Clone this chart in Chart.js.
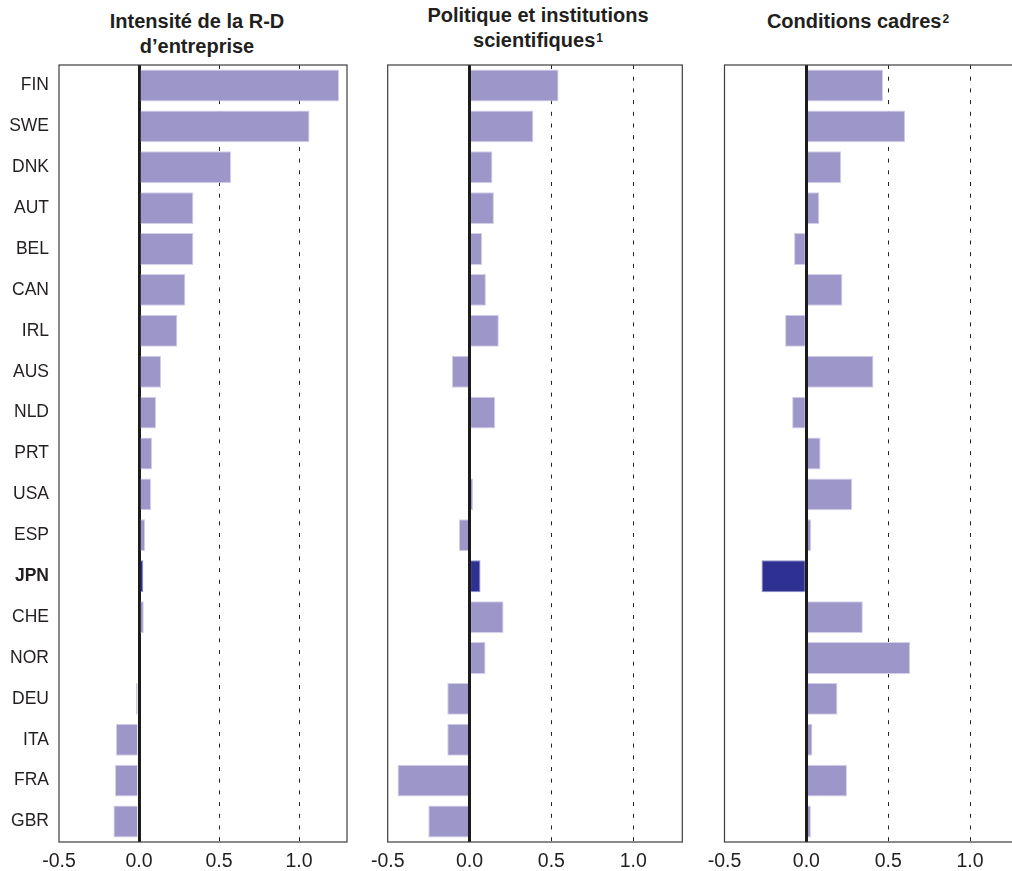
<!DOCTYPE html>
<html>
<head>
<meta charset="utf-8">
<script src="https://cdn.jsdelivr.net/npm/chart.js@4.4.1/dist/chart.umd.min.js"></script>
<style>
  html, body { margin: 0; padding: 0; background: #fff; width: 1012px; height: 871px; overflow: hidden; }
  .panel { position: absolute; top: 64px; }
  .title {
    position: absolute; transform: translateX(-50%);
    font-family: "Liberation Sans", Arial, Helvetica, sans-serif;
    font-weight: bold; font-size: 20px; line-height: 25px;
    color: #231f20; text-align: center; white-space: nowrap;
  }
  .title sup { font-size: 12px; font-weight: bold; vertical-align: top; position: relative; top: -2px; margin-left: 1px; }
</style>
</head>
<body>
<div class="title" style="left:197px; top:9px;">Intensité de la R-D<br>d’entreprise</div>
<div class="title" style="left:538px; top:3px;">Politique et institutions<br>scientifiques<sup>1</sup></div>
<div class="title" style="left:858px; top:9px;">Conditions cadres<sup>2</sup></div>

<div class="panel" style="left:0px;"><canvas id="c1" width="360" height="807"></canvas></div>
<div class="panel" style="left:350px;"><canvas id="c2" width="350" height="807"></canvas></div>
<div class="panel" style="left:690px;"><canvas id="c3" width="350" height="807"></canvas></div>

<script>
// Countries, top to bottom
const countries = ['FIN','SWE','DNK','AUT','BEL','CAN','IRL','AUS','NLD','PRT','USA','ESP','JPN','CHE','NOR','DEU','ITA','FRA','GBR'];

// Contribution of each factor
const rdIntensity   = [1.25, 1.066, 0.575, 0.34, 0.34, 0.29, 0.24, 0.138, 0.107, 0.082, 0.075, 0.038, 0.027, 0.03, 0.0, -0.02, -0.144, -0.15, -0.16];
const scienceInst   = [0.544, 0.39, 0.14, 0.149, 0.077, 0.10, 0.179, -0.108, 0.157, 0.0, 0.022, -0.065, 0.067, 0.208, 0.098, -0.136, -0.136, -0.44, -0.252];
const frameworkCond = [0.468, 0.604, 0.213, 0.079, -0.075, 0.22, -0.13, 0.41, -0.087, 0.087, 0.28, 0.03, -0.274, 0.345, 0.634, 0.19, 0.037, 0.248, 0.028];

// Axis ticks
const xTicks = [-0.5, 0, 0.5, 1.0];
const xMin = -0.5, xMax = 1.3;

const highlighted = 'JPN';
const BAR = '#9d96c9', BAR_EDGE = '#d3cfe9';
const HI = '#2e3192', HI_EDGE = '#8f91c9';
const FONT = '"Liberation Sans", Arial, Helvetica, sans-serif';

// Thin frame around the plotting area
const framePlugin = {
  id: 'frame',
  afterDraw(chart) {
    const { ctx, chartArea: a } = chart;
    ctx.save();
    ctx.strokeStyle = '#3c3c3c';
    ctx.lineWidth = 1.2;
    ctx.strokeRect(a.left, a.top, a.right - a.left, a.bottom - a.top);
    ctx.restore();
  }
};

function makePanel(id, values, cfg) {
  const colors = countries.map(c => c === highlighted ? HI : BAR);
  const edges = countries.map(c => c === highlighted ? HI_EDGE : BAR_EDGE);
  return new Chart(document.getElementById(id), {
    type: 'bar',
    data: {
      labels: countries,
      datasets: [{
        data: values,
        backgroundColor: colors,
        borderColor: edges,
        borderWidth: 1,
        barPercentage: 0.78,
        categoryPercentage: 1.0
      }]
    },
    plugins: [framePlugin],
    options: {
      indexAxis: 'y',
      responsive: false,
      animation: false,
      events: [],
      layout: { padding: { top: 1, right: cfg.padRight, left: 0, bottom: 0 } },
      plugins: { legend: { display: false }, tooltip: { enabled: false }, title: { display: false } },
      scales: {
        x: {
          type: 'linear',
          min: xMin, max: xMax,
          z: 1,
          afterBuildTicks: s => { s.ticks = xTicks.map(v => ({ value: v })); },
          afterFit: s => { s.height = 29; },
          border: {
            display: false,
            dash: ctx => (ctx.tick && ctx.tick.value === 0) ? [] : [4, 7.7]
          },
          grid: {
            drawTicks: false,
            color: ctx => {
              const v = ctx.tick ? ctx.tick.value : null;
              if (v === 0) return '#1b1b1b';
              if (v > 0) return '#222222';
              return 'rgba(0,0,0,0)';
            },
            lineWidth: ctx => (ctx.tick && ctx.tick.value === 0) ? 3 : 1
          },
          ticks: {
            padding: 8,
            color: '#231f20',
            font: { family: FONT, size: 19.5 },
            callback: v => Number(v).toFixed(1)
          }
        },
        y: {
          afterFit: s => { s.width = cfg.yWidth; s.paddingTop = 0; s.paddingBottom = 0; },
          border: { display: false },
          grid: { display: false, drawTicks: false },
          ticks: {
            display: cfg.showLabels,
            padding: 10,
            color: '#231f20',
            font: ctx => ({
              family: FONT, size: 17.5,
              weight: countries[ctx.index] === highlighted ? 'bold' : 'normal'
            })
          }
        }
      }
    }
  });
}

makePanel('c1', rdIntensity,   { yWidth: 59,   padRight: 13,   showLabels: true });
makePanel('c2', scienceInst,   { yWidth: 37.7, padRight: 17.7, showLabels: false });
makePanel('c3', frameworkCond, { yWidth: 34.5, padRight: 20.8, showLabels: false });
</script>
</body>
</html>
